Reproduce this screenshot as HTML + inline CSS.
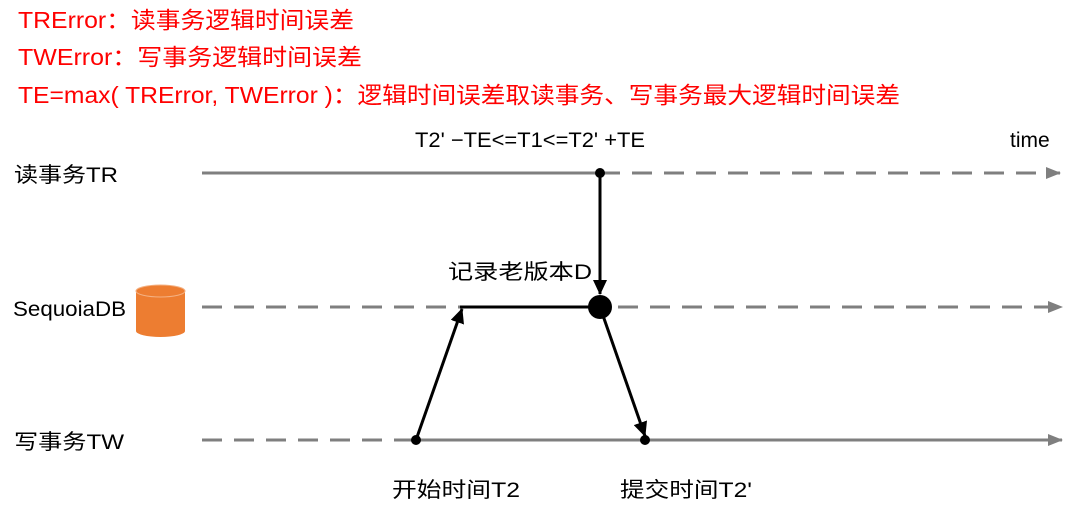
<html><body style="margin:0;background:#fff;width:1080px;height:507px;overflow:hidden">
<svg width="1080" height="507" xmlns="http://www.w3.org/2000/svg" style="font-family:'Liberation Sans','Noto Sans CJK SC',sans-serif">
<defs>
<marker id="g" markerWidth="16" markerHeight="12" refX="14" refY="6" orient="auto" markerUnits="userSpaceOnUse"><path d="M0,0 L15,6 L0,12z" fill="#7f7f7f"/></marker>
<marker id="b" markerWidth="16" markerHeight="14" refX="14" refY="7" orient="auto" markerUnits="userSpaceOnUse"><path d="M0,0 L15,7 L0,14z" fill="#000"/></marker>
</defs>
<g fill="#ff0000" font-size="23">
<text x="18" y="28" textLength="336" lengthAdjust="spacingAndGlyphs">TRError：读事务逻辑时间误差</text>
<text x="18" y="65" textLength="344" lengthAdjust="spacingAndGlyphs">TWError：写事务逻辑时间误差</text>
<text x="18" y="103" textLength="882" lengthAdjust="spacingAndGlyphs">TE=max( TRError, TWError )：逻辑时间误差取读事务、写事务最大逻辑时间误差</text>
</g>
<g font-size="21" fill="#000">
<text x="415" y="147" textLength="230" lengthAdjust="spacingAndGlyphs">T2' −TE&lt;=T1&lt;=T2' +TE</text>
<text x="1010" y="147">time</text>
<text x="14" y="182" textLength="104" lengthAdjust="spacingAndGlyphs">读事务TR</text>
<text x="13" y="316" textLength="113" lengthAdjust="spacingAndGlyphs">SequoiaDB</text>
<text x="14" y="449" textLength="110" lengthAdjust="spacingAndGlyphs">写事务TW</text>
<text x="448" y="279" textLength="144" lengthAdjust="spacingAndGlyphs">记录老版本D</text>
<text x="392" y="497" textLength="128" lengthAdjust="spacingAndGlyphs">开始时间T2</text>
<text x="620" y="497" textLength="132" lengthAdjust="spacingAndGlyphs">提交时间T2'</text>
</g>
<g stroke="#7f7f7f" stroke-width="3" fill="none">
<line x1="202" y1="173" x2="600" y2="173"/>
<line x1="600" y1="173" x2="1060" y2="173" stroke-dasharray="20,12" marker-end="url(#g)"/>
<line x1="202" y1="307" x2="1062" y2="307" stroke-dasharray="20,12" marker-end="url(#g)"/>
<line x1="202" y1="440" x2="416" y2="440" stroke-dasharray="20,12"/>
<line x1="416" y1="440" x2="1062" y2="440" marker-end="url(#g)"/>
</g>
<g>
<path d="M136,291 L136,331 A24.5,6 0 0 0 185,331 L185,291z" fill="#ed7d31"/>
<ellipse cx="160.5" cy="291" rx="24.5" ry="6" fill="#ed7d31" stroke="#f4b183" stroke-width="1"/>
</g>
<g stroke="#000" stroke-width="3" fill="none">
<line x1="600" y1="173" x2="600" y2="294" marker-end="url(#b)"/>
<line x1="460" y1="307" x2="600" y2="307"/>
<line x1="416" y1="440" x2="462" y2="309" marker-end="url(#b)"/>
<line x1="600" y1="307" x2="645" y2="436" marker-end="url(#b)"/>
</g>
<circle cx="600" cy="173" r="5" fill="#000"/>
<circle cx="600" cy="307" r="12" fill="#000"/>
<circle cx="416" cy="440" r="5" fill="#000"/>
<circle cx="645" cy="440" r="5" fill="#000"/>
</svg>
</body></html>
